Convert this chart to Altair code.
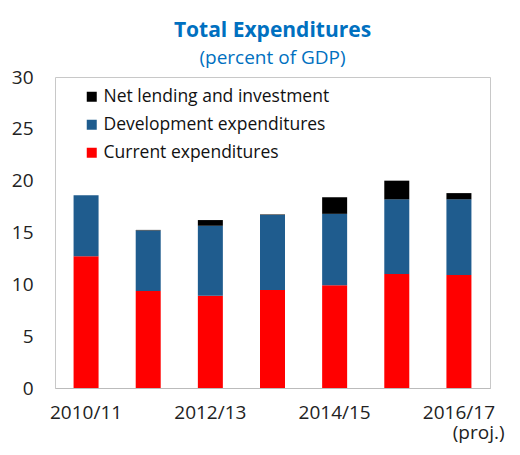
import altair as alt
import pandas as pd

years = ["2010/11", "2011/12", "2012/13", "2013/14", "2014/15", "2015/16", "2016/17"]
current = [12.7, 9.35, 8.9, 9.45, 9.9, 11.0, 10.9]
development = [5.9, 5.85, 6.75, 7.25, 6.9, 7.2, 7.3]
net_lending = [0.0, 0.05, 0.55, 0.05, 1.6, 1.8, 0.6]
series = ["Net lending and investment", "Development expenditures", "Current expenditures"]
colors = ["#000000", "#1F5C8E", "#FF0000"]
y_ticks = [0, 5, 10, 15, 20, 25, 30]

rows = []
for i, yr in enumerate(years):
    rows.append({"year": yr, "series": series[2], "value": current[i], "order": 0})
    rows.append({"year": yr, "series": series[1], "value": development[i], "order": 1})
    rows.append({"year": yr, "series": series[0], "value": net_lending[i], "order": 2})
df = pd.DataFrame(rows)

pad = "\u200b" + "\u00a0" * 8
label_expr = (
    "indexof(['2010/11','2012/13','2014/15'], datum.value) >= 0 ? datum.value : "
    "(datum.value == '2016/17' ? ['2016/17', '" + pad + "(proj.)'] : '')"
)

FONT = "Open Sans"

chart = alt.Chart(df).mark_bar(size=25).encode(
    x=alt.X(
        "year:N",
        sort=years,
        scale=alt.Scale(paddingInner=0, paddingOuter=0),
        axis=alt.Axis(
            title=None, labelAngle=0, labelExpr=label_expr, ticks=False,
            domainColor="#bbbbbb", labelFontSize=19, labelPadding=15,
            labelColor="#222222", labelOverlap=False, labelLineHeight=20,
            labelFont=FONT,
        ),
    ),
    y=alt.Y(
        "value:Q",
        stack="zero",
        scale=alt.Scale(domain=[0, 30]),
        axis=alt.Axis(
            title=None, values=y_ticks, grid=False, ticks=False, domain=False,
            labelPadding=22, labelFontSize=19, labelColor="#222222", labelFont=FONT,
        ),
    ),
    color=alt.Color(
        "series:N",
        scale=alt.Scale(domain=series, range=colors),
        legend=alt.Legend(
            title=None, orient="none", legendX=28, legendY=11,
            symbolType="square", symbolSize=100, symbolStrokeWidth=0,
            labelFontSize=17.5, labelFont=FONT, labelColor="#111111",
            rowPadding=9, labelOffset=3, labelLimit=400,
        ),
    ),
    order=alt.Order("order:Q"),
).properties(
    width=435,
    height=311,
    padding={"left": 47, "top": 69, "right": 22, "bottom": 59},
    autosize=alt.AutoSizeParams(type="none"),
    title=alt.TitleParams(
        "Total Expenditures",
        subtitle="(percent of GDP)",
        color="#0070C0",
        subtitleColor="#0070C0",
        font=FONT,
        subtitleFont=FONT,
        fontSize=21,
        subtitleFontSize=19,
        fontWeight="bold",
        subtitleFontWeight="normal",
        anchor="middle",
        offset=0,
        subtitlePadding=8,
    ),
).configure_view(stroke="#c8c8c8", strokeWidth=1)

chart.save("out.html", embed_options={"renderer": "svg", "actions": False})
